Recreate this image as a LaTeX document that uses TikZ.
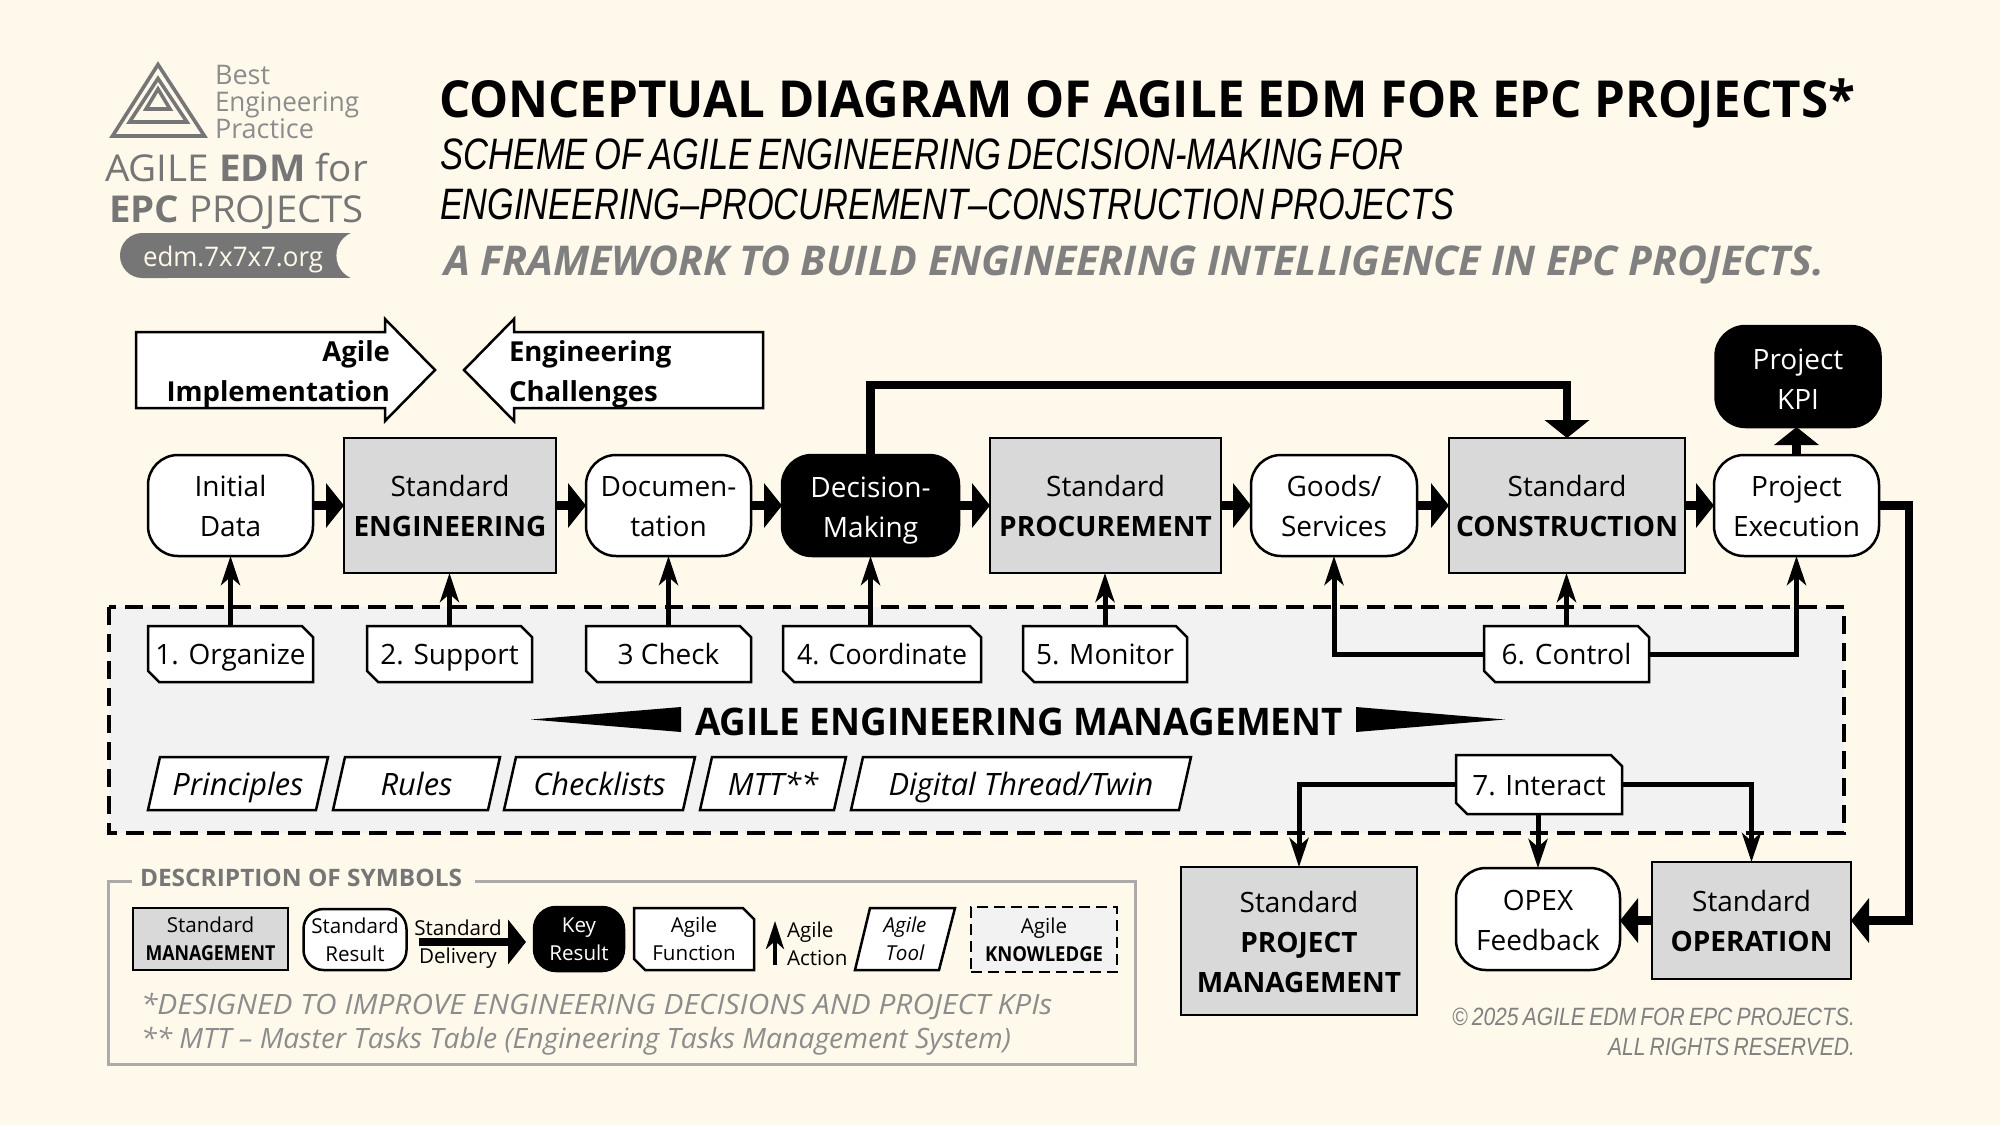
\documentclass[tikz,border=0pt]{standalone}
\usepackage{fontspec}
\usepackage{graphicx}
\setmainfont{Open Sans}
\newfontfamily\arialf[WordSpace=0.72]{Liberation Sans}
\usetikzlibrary{arrows.meta,shapes.misc}
\definecolor{bgc}{HTML}{FFF9EB}
\definecolor{stdg}{HTML}{D9D9D9}
\definecolor{agl}{HTML}{F2F2F2}
\definecolor{logog}{HTML}{767676}
\definecolor{noteg}{HTML}{8C8C8C}
\definecolor{frameg}{HTML}{AEAAAA}
\definecolor{headg}{HTML}{808080}
\newsavebox\fitb
\newcommand\fitw[2]{\sbox\fitb{#2}\pgfmathsetmacro\fitr{(#1)*0.5/\wd\fitb}\scalebox{\fitr}[1]{\usebox\fitb}}
\newcommand\fs[2]{\fontsize{#1}{#2}\selectfont}
\newcommand\tstrut{\rule{0pt}{.78em}}
\newcommand\dnone{\rule{0pt}{11.5pt}}
\newcommand\dntwo{\rule{0pt}{12.7pt}}
\tikzset{
  wh/.style 2 args={minimum width=#1*0.5pt,minimum height=#2*0.5pt},
  base/.style={inner sep=0pt,outer sep=0pt,align=center,line width=1.25pt,font=\fs{14}{20},execute at begin node=\tstrut},
  stdbox/.style={base,draw=black,fill=stdg},
  resbox/.style={base,draw=black,fill=white,rounded corners=15pt},
  keybox/.style={base,draw=black,fill=black,text=white,rounded corners=15pt},
  snipbox/.style={base,draw=black,fill=white,chamfered rectangle,
    chamfered rectangle corners={north east,south west},
    chamfered rectangle xsep=2.8pt,chamfered rectangle ysep=2.8pt},
  txt/.style={inner sep=0pt,outer sep=0pt},
  thick arrow/.style={line width=4.25pt,line join=miter,-{Triangle[length=9pt,width=22pt]}},
  thin arrow/.style={line width=2.5pt,line join=miter,-{Stealth[length=14.5pt,width=9.5pt,inset=4pt]}},
  outline/.style={draw=black,line width=1.25pt,line join=miter},
  dashbox/.style={draw=black,line width=1.6pt,dash pattern=on 9pt off 4.5pt,fill=agl},
  lg/.style={font=\fs{10.3}{14}},
}
\newcommand\toolp[7]{% name, xL, xR, yT, yB, slant, text
  \draw[outline,fill=white] ({#2+#6},#4) -- (#3,#4) -- ({#3-#6},#5) -- (#2,#5) -- cycle;
  \node[txt,font=\fs{15.4}{20}\itshape,execute at begin node=\tstrut] (#1) at ({(#2+#3)/2},{(#4+#5)/2}) {\smash{#7}};}
\begin{document}
\begin{tikzpicture}[x=0.5pt,y=-0.5pt]
\useasboundingbox (0,0) rectangle (2000,1125);
\fill[bgc] (0,0) rectangle (2000,1125);

% ---------- logo
\draw[logog,line width=1.8pt,line join=miter] (158,64.5) -- (204.5,136) -- (112.5,136) -- cycle;
\draw[logog,line width=1.8pt,line join=miter] (158,78.5) -- (187,122) -- (129.5,122) -- cycle;
\draw[logog,line width=1.8pt,line join=miter] (158,89) -- (170,109) -- (146,109) -- cycle;
\node[txt,anchor=west,text=noteg] (lb) at (215,75) {\fs{13.5}{16}Best};
\node[txt,anchor=west,text=noteg] (le) at (215,105) {\fitw{144}{\fs{13.5}{16}Engineering}};
\node[txt,anchor=west,text=noteg] (lp) at (215,129) {\fs{13.5}{16}Practice};
\node[txt,anchor=west,text=logog] (la) at (105,168) {\fitw{263}{\fs{18.5}{22}AGILE \textbf{EDM} for}};
\node[txt,anchor=west,text=logog] (lc) at (109,213) {\fitw{255}{\fs{18.5}{22}\textbf{EPC} PROJECTS}};
\fill[logog,rounded corners=11.2pt] (120,233) rectangle (190,278);
\fill[logog] (150,233) rectangle (352,278);
\fill[bgc] (361,255.5) circle[radius=24.6];
\node[txt,text=bgc] (lu) at (233,259) {\fitw{180}{\fs{13.5}{16}edm.7x7x7.org}};

% ---------- headings
\node[txt,anchor=west] (t1) at (439,103) {\fitw{1416}{\fs{25.5}{30}\bfseries CONCEPTUAL DIAGRAM OF AGILE EDM FOR EPC PROJECTS*}};
\node[txt,anchor=west] (t2) at (440,154) {\fitw{963}{\arialf\fs{22}{26}\itshape SCHEME OF AGILE ENGINEERING DECISION-MAKING FOR}};
\node[txt,anchor=west] (t3) at (440,204) {\fitw{1014}{\arialf\fs{22}{26}\itshape ENGINEERING–PROCUREMENT–CONSTRUCTION PROJECTS}};
\node[txt,anchor=west,text=headg] (t4) at (444,265) {\fitw{1380}{\fs{20.5}{26}\bfseries\itshape A FRAMEWORK TO BUILD ENGINEERING INTELLIGENCE IN EPC PROJECTS.}};

% ---------- block arrows
\draw[outline,fill=white] (136,332) -- (385,332) -- (385,319) -- (435,370) -- (385,421) -- (385,408) -- (136,408) -- cycle;
\node[txt,anchor=east,align=right,font=\fs{13.75}{20}\bfseries] (ai) at (390,374) {Agile\\Implementation};
\draw[outline,fill=white] (763,332) -- (514,332) -- (514,319) -- (464,370) -- (514,421) -- (514,408) -- (763,408) -- cycle;
\node[txt,anchor=west,align=left,font=\fs{13.75}{20}\bfseries] (ec) at (509,374) {Engineering\\Challenges};

% ---------- agile knowledge area
\draw[dashbox] (109,607) rectangle (1844,833);

% ---------- main row
\node[resbox,wh={165}{101}] (init) at (230.5,505.5) {Initial\\Data};
\node[stdbox,wh={212}{135}] (eng) at (450,505.5) {Standard\\\textbf{ENGINEERING}};
\node[resbox,wh={165}{101}] (doc) at (668.5,505.5) {\dnone Documen-\\tation};
\node[keybox,wh={177}{101}] (dm) at (870.5,505.5) {\dnone Decision-\\\smash{Making}};
\node[stdbox,wh={231}{135}] (proc) at (1105.5,505.5) {Standard\\\textbf{PROCUREMENT}};
\node[resbox,wh={166}{101}] (goods) at (1334,505.5) {Goods/\\Services};
\node[stdbox,wh={236}{135}] (con) at (1567,505.5) {Standard\\\textbf{CONSTRUCTION}};
\node[resbox,wh={165}{101}] (exec) at (1796.5,505.5) {\dnone Project\\Execution};
\node[keybox,wh={165}{101}] (kpi) at (1798,376.5) {\dntwo Project\\KPI};

% ---------- agile functions
\node[snipbox,wh={165}{56}] (f1) at (230.5,654) {\smash{1. Organize}};
\node[snipbox,wh={165}{56}] (f2) at (449.5,654) {\smash{2. Support}};
\node[snipbox,wh={165}{56}] (f3) at (668.5,654) {3 Check};
\node[snipbox,wh={198}{56}] (f4) at (882,654) {\fitw{170}{4. Coordinate}};
\node[snipbox,wh={164}{56}] (f5) at (1105,654) {5. Monitor};
\node[snipbox,wh={165}{56}] (f6) at (1566.5,654) {6. Control};
\node[snipbox,wh={166}{59}] (f7) at (1539,784.5) {7. Interact};

% ---------- lower boxes
\node[stdbox,wh={236}{148}] (pm) at (1299,941) {\dnone Standard\\\textbf{PROJECT}\\\textbf{MANAGEMENT}};
\node[resbox,wh={164}{102}] (opex) at (1538,919) {\dnone OPEX\\Feedback};
\node[stdbox,wh={199}{117}] (op) at (1751.5,920.5) {Standard\\\textbf{OPERATION}};

% ---------- connectors
\coordinate (topy) at (0,385);
\coordinate (rx) at (1909,700);
\foreach \a/\b in {init/eng,eng/doc,doc/dm,dm/proc,proc/goods,goods/con,con/exec}
  \draw[thick arrow] (\a.east) -- (\b.west);
\draw[thick arrow] (exec.north) -- (exec.north |- kpi.south);
\draw[thick arrow] (dm.north) -- (dm.north |- topy) -- (con.north |- topy) -- (con.north);
\draw[thick arrow] (exec.east) -- (exec.east -| rx) -- (op.east -| rx) -- (op.east);
\draw[thick arrow] (op.west) -- (op.west -| opex.east);
\draw[thin arrow] (f1.north) -- (init.south);
\draw[thin arrow] (f2.north) -- (f2.north |- eng.south);
\draw[thin arrow] (f3.north) -- (doc.south);
\draw[thin arrow] (f4.north -| dm.south) -- (dm.south);
\draw[thin arrow] (f5.north) -- (f5.north |- proc.south);
\draw[thin arrow] (f6.north) -- (f6.north |- con.south);
\draw[thin arrow] (f6.west) -| (goods.south);
\draw[thin arrow] (f6.east) -| (exec.south);
\draw[thin arrow] (f7.west) -| (pm.north);
\draw[thin arrow] (f7.south -| opex.north) -- (opex.north);
\draw[thin arrow] (f7.east) -| (op.north);

% ---------- centre banner
\node[txt,font=\fs{19}{24}\bfseries] (aem) at (1019,722) {\fitw{648}{AGILE ENGINEERING MANAGEMENT}};
\fill[black] (531,719.5) -- (681,707) -- (681,732) -- cycle;
\fill[black] (1505,719.5) -- (1356,707) -- (1356,732) -- cycle;

% ---------- tools
\toolp{t1p}{148}{328}{757}{810}{12}{Principles}
\toolp{t2p}{333}{500}{757}{810}{12}{Rules}
\toolp{t3p}{504}{695}{757}{810}{12}{Checklists}
\toolp{t4p}{700}{846}{757}{810}{12}{MTT**}
\toolp{t5p}{851}{1191}{757}{810}{12}{Digital Thread/Twin}

% ---------- legend frame
\draw[frameg,line width=1.5pt] (108,881) rectangle (1135,1064);
\node[txt,fill=bgc,minimum width=171.5pt,minimum height=15pt] (dsb) at (303.5,879) {};
\node[txt,text=logog] (ds) at (301,878) {\fitw{322}{\fs{12}{14}\bfseries DESCRIPTION OF SYMBOLS}};
\node[stdbox,lg,wh={155}{62}] (lm) at (210.5,939) {Standard\\\fitw{130}{\textbf{MANAGEMENT}}};
\node[resbox,lg,rounded corners=10pt,wh={103}{61}] (lr) at (355,939.5) {Standard\\Result};
\node[txt,lg,align=center] (ldt) at (458,927.5) {Standard};
\node[txt,lg,align=center] (ldb) at (458,958) {Delivery};
\coordinate (dl1) at (419,942);
\coordinate (dl2) at (526,942);
\draw[thick arrow] (dl1) -- (dl2);
\node[keybox,lg,rounded corners=11pt,wh={90}{64}] (lk) at (579,939) {Key\\Result};
\node[snipbox,lg,wh={120}{62}] (lf) at (694,939) {Agile\\Function};
\coordinate (la1) at (775,965);
\coordinate (la2) at (775,921);
\draw[thin arrow,line width=2pt,-{Stealth[length=14pt,width=9pt,inset=4pt]}] (la1) -- (la2);
\node[txt,lg,anchor=west,align=left,font=\fs{10.3}{14}] (lat) at (787,944) {Agile\\Action};
\draw[outline,fill=white] (870,908) -- (955,908) -- (939,970) -- (855,970) -- cycle;
\node[txt,font=\fs{10.3}{14}\itshape,align=center] (lt) at (905,939) {Agile\\Tool};
\node[base,lg,dashbox,line width=1.25pt,dash pattern=on 5.5pt off 3pt,wh={146}{65}] (lkn) at (1044,939.5) {Agile\\\fitw{118}{\bfseries KNOWLEDGE}};
\node[txt,anchor=west,text=noteg] (n1) at (141,1006) {\fitw{911}{\fs{14}{18}\itshape *DESIGNED TO IMPROVE ENGINEERING DECISIONS AND PROJECT KPIs}};
\node[txt,anchor=west,text=noteg] (n2) at (141,1041) {\fitw{870}{\fs{14}{18}\itshape ** MTT – Master Tasks Table (Engineering Tasks Management System)}};

% ---------- copyright
\node[txt,anchor=east,text=headg] (c1) at (1855,1017) {\fitw{403}{\arialf\fs{12.5}{15}\itshape © 2025 AGILE EDM FOR EPC PROJECTS.}};
\node[txt,anchor=east,text=headg] (c2) at (1855,1047) {\fitw{247}{\arialf\fs{12.5}{15}\itshape ALL RIGHTS RESERVED.}};
\end{tikzpicture}
\end{document}
